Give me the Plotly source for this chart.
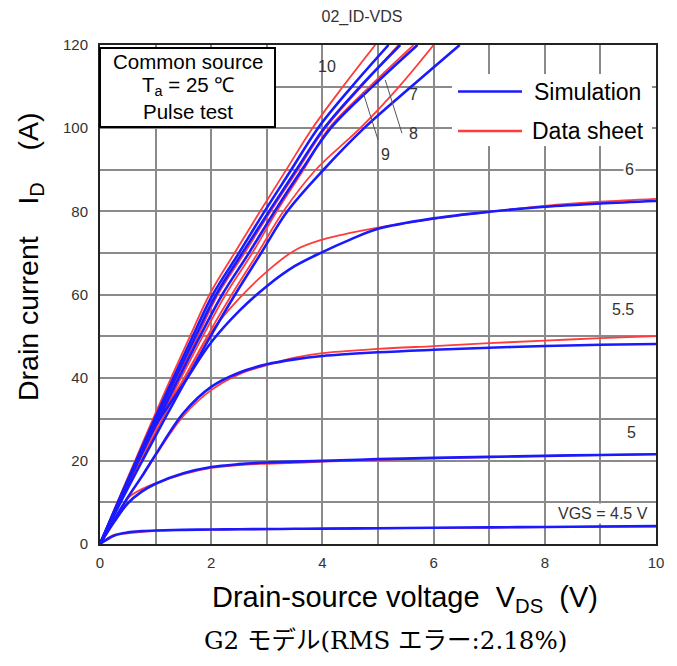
import plotly.graph_objects as go

# ---------------- data ----------------
# Steep curves (VGS = 7..10 V): VDS (V) read at fixed drain-current levels
ID_LEVELS = [0, 10, 20, 30, 40, 50, 60, 70, 80, 90, 100, 110, 120]
ds_10 = [0, 0.31, 0.63, 0.95, 1.28, 1.62, 1.97, 2.42, 2.88, 3.35, 3.82, 4.37, 4.95]
sim_10 = [0, 0.32, 0.65, 0.98, 1.32, 1.67, 2.03, 2.50, 2.96, 3.44, 3.92, 4.53, 5.19]
sim_9 = [0, 0.33, 0.67, 1.01, 1.36, 1.72, 2.09, 2.56, 3.04, 3.53, 4.03, 4.68, 5.40]
ds_9 = [0, 0.33, 0.68, 1.03, 1.39, 1.76, 2.12, 2.60, 3.07, 3.56, 4.05, 4.70, 5.37]
sim_8 = [0, 0.34, 0.69, 1.05, 1.42, 1.80, 2.20, 2.68, 3.14, 3.63, 4.15, 4.90, 5.71]
ds_8 = [0, 0.35, 0.71, 1.08, 1.46, 1.85, 2.26, 2.74, 3.18, 3.66, 4.12, 4.85, 5.64]
ds_7 = [0, 0.36, 0.74, 1.12, 1.52, 1.93, 2.37, 2.84, 3.30, 3.88, 4.68, 5.38, 6.00]
sim_7 = [0, 0.37, 0.76, 1.16, 1.57, 1.99, 2.43, 2.90, 3.37, 4.02, 4.75, 5.60, 6.47]

# Saturating curves: ID (A) read at fixed VDS values
VDS_SAT = [0, 0.25, 0.5, 0.75, 1, 1.5, 2, 2.5, 3, 3.5, 4, 5, 6, 7, 8, 9, 10]
sim_45 = [0, 2.0, 2.8, 3.1, 3.25, 3.4, 3.5, 3.55, 3.6, 3.65, 3.7, 3.8, 3.9, 4.0, 4.1, 4.2, 4.3]
ds_45 = [0, 2.2, 2.55, 2.9, 3.15, 3.35, 3.45, 3.5, 3.55, 3.6, 3.65, 3.75, 3.85, 3.95, 4.05, 4.15, 4.25]
sim_5 = [0, 5.2, 9.8, 12.6, 14.5, 17.0, 18.5, 19.2, 19.6, 19.8, 20.0, 20.4, 20.7, 20.95, 21.2, 21.4, 21.6]
ds_5 = [0, 5.5, 11.0, 13.2, 14.6, 16.8, 18.3, 19.0, 19.3, 19.5, 19.8, 20.2, 20.6, 20.9, 21.2, 21.4, 21.6]
sim_55 = [0, 5.7, 11.2, 16.2, 21.5, 31.5, 37.8, 41.2, 43.2, 44.4, 45.2, 46.1, 46.7, 47.2, 47.6, 47.9, 48.1]
ds_55 = [0, 5.7, 11.2, 16.1, 21.3, 30.8, 37.0, 40.8, 43.0, 44.8, 45.9, 46.9, 47.6, 48.3, 48.9, 49.5, 50.0]

VDS_6 = [0, 0.25, 0.5, 0.75, 1, 1.5, 2, 2.5, 3, 3.5, 4, 4.5, 5, 6, 7, 8, 9, 10]
sim_6 = [0, 7.5, 15, 22, 28.5, 38.5, 48.5, 56, 62, 66.8, 70.2, 73.2, 75.8, 78.3, 79.9, 81.1, 81.9, 82.5]
ds_6 = [0, 7.8, 15.5, 22.5, 29, 39.5, 51, 59, 65.5, 70.6, 73.2, 74.8, 76.1, 78.2, 79.9, 81.3, 82.3, 83.0]

# curve labels: text, VDS, ID
LABELS = [("10", 4.08, 114.9), ("7", 5.63, 108.0), ("8", 5.63, 98.6), ("9", 5.13, 93.6),
          ("6", 9.53, 90.0), ("5.5", 9.41, 56.3), ("5", 9.56, 26.8), ("VGS = 4.5 V", 9.05, 7.4)]
# leader lines (x0, y0, x1, y1) in data units
LEADERS = [(5.00, 97.2, 4.73, 108.7), (5.43, 98.8, 5.13, 111.6)]

X_TICKS = [0, 2, 4, 6, 8, 10]
Y_TICKS = [0, 20, 40, 60, 80, 100, 120]

BLUE = "#1a1aff"
RED = "#ff3b3b"
FONT = "Liberation Sans, Arial, sans-serif"

# page has an 8px body margin: figure is shrunk by it so the plot area lands where intended
W, H = 669, 658

fig = go.Figure()

red_v = [ds_10, ds_9, ds_8, ds_7]
blue_v = [sim_10, sim_9, sim_8, sim_7]
red_i = [(VDS_SAT, ds_45), (VDS_SAT, ds_5), (VDS_SAT, ds_55), (VDS_6, ds_6)]
blue_i = [(VDS_SAT, sim_45), (VDS_SAT, sim_5), (VDS_SAT, sim_55), (VDS_6, sim_6)]

line_kw = dict(mode="lines", showlegend=False, hoverinfo="skip")
for xs, ys in red_i:
    fig.add_trace(go.Scatter(x=xs, y=ys, line=dict(color=RED, width=1.8, shape="spline"), **line_kw))
for v in red_v:
    fig.add_trace(go.Scatter(x=v, y=ID_LEVELS, line=dict(color=RED, width=1.8, shape="spline"), **line_kw))
for xs, ys in blue_i:
    fig.add_trace(go.Scatter(x=xs, y=ys, line=dict(color=BLUE, width=2.6, shape="spline"), **line_kw))
for v in blue_v:
    fig.add_trace(go.Scatter(x=v, y=ID_LEVELS, line=dict(color=BLUE, width=2.6, shape="spline"), **line_kw))


def py(p):  # screen-pixel y -> paper y
    return (544 - p) / 499


def px(p):  # screen-pixel x -> paper x
    return (p - 100) / 556


shapes = []
for x0, y0, x1, y1 in LEADERS:
    shapes.append(dict(type="line", xref="x", yref="y", x0=x0, y0=y0, x1=x1, y1=y1,
                       line=dict(color="#555", width=1)))
# condition box
shapes.append(dict(type="rect", xref="paper", yref="paper", x0=0.0, x1=px(275), y0=py(127), y1=py(48),
                   fillcolor="white", line=dict(color="black", width=2), layer="above"))
# legend background + sample lines
shapes.append(dict(type="rect", xref="paper", yref="paper", x0=px(452), x1=px(652), y0=py(146), y1=py(74),
                   fillcolor="white", line=dict(width=0), layer="above"))
shapes.append(dict(type="line", xref="paper", yref="paper", x0=px(458), x1=px(522), y0=py(91.5), y1=py(91.5),
                   line=dict(color=BLUE, width=2.6), layer="above"))
shapes.append(dict(type="line", xref="paper", yref="paper", x0=px(458), x1=px(522), y0=py(131), y1=py(131),
                   line=dict(color=RED, width=2.6), layer="above"))

annotations = []
for t, x, y in LABELS:
    ann = dict(text=t, x=x, y=y, xref="x", yref="y", showarrow=False, xanchor="center", yanchor="middle",
               font=dict(family=FONT, size=16, color="#333"))
    if t in ("6", "5.5", "5", "VGS = 4.5 V"):
        ann["bgcolor"] = "white"
    annotations.append(ann)
for t, yy in (("Common source", 61), ("T<sub>a</sub> = 25 ℃", 86), ("Pulse test", 111)):
    annotations.append(dict(text=t, x=px(188), y=py(yy), xref="paper", yref="paper", showarrow=False,
                            xanchor="center", yanchor="middle",
                            font=dict(family=FONT, size=20.5, color="black")))
annotations.append(dict(text="Simulation", x=px(532), y=py(91.5), xref="paper", yref="paper",
                        xanchor="left", yanchor="middle", showarrow=False,
                        font=dict(family=FONT, size=23, color="black")))
annotations.append(dict(text="Data sheet", x=px(530), y=py(131), xref="paper", yref="paper",
                        xanchor="left", yanchor="middle", showarrow=False,
                        font=dict(family=FONT, size=23, color="black")))
# axis titles
annotations.append(dict(text="Drain-source voltage  V<sub>DS</sub>  (V)", x=px(405), y=py(599),
                        xref="paper", yref="paper", showarrow=False, xanchor="center", yanchor="middle",
                        font=dict(family=FONT, size=29, color="black")))
annotations.append(dict(text="Drain current    I<sub>D</sub>    (A)", x=px(30), y=py(257), textangle=-90,
                        xref="paper", yref="paper", showarrow=False, xanchor="center", yanchor="middle",
                        font=dict(family=FONT, size=28.5, color="black")))
# caption
annotations.append(dict(text="G2 モデル(RMS エラー:2.18%)", x=px(385), y=py(640),
                        xref="paper", yref="paper", showarrow=False, xanchor="center", yanchor="middle",
                        font=dict(family="DejaVu Serif, Noto Sans CJK JP, serif", size=24.5, color="black")))

GRID = "#8a8a8a"
fig.update_layout(
    width=W, height=H,
    margin=dict(l=92, r=W - 92 - 556, t=37, b=H - 37 - 499, autoexpand=False),
    paper_bgcolor="white", plot_bgcolor="white",
    title=dict(text="02_ID-VDS", x=(362 - 8) / W, xanchor="center", y=1 - (16 - 8) / H, yanchor="middle",
               yref="container", font=dict(family=FONT, size=16, color="#333")),
    shapes=shapes, annotations=annotations,
    xaxis=dict(range=[0, 10], tickvals=X_TICKS, showgrid=True, gridcolor=GRID, gridwidth=1.5,
               minor=dict(dtick=1, showgrid=True, gridcolor=GRID, gridwidth=1.5),
               showline=True, linecolor="#222", linewidth=2, mirror=True, zeroline=False,
               ticks="", ticklabelstandoff=4,
               tickfont=dict(family=FONT, size=15, color="#333")),
    yaxis=dict(range=[0, 120], tickvals=Y_TICKS, showgrid=True, gridcolor=GRID, gridwidth=1.5,
               minor=dict(dtick=10, showgrid=True, gridcolor=GRID, gridwidth=1.5),
               showline=True, linecolor="#222", linewidth=2, mirror=True, zeroline=False,
               ticks="", ticklabelstandoff=7,
               tickfont=dict(family=FONT, size=15, color="#333")),
)

fig.write_html("out.html")
